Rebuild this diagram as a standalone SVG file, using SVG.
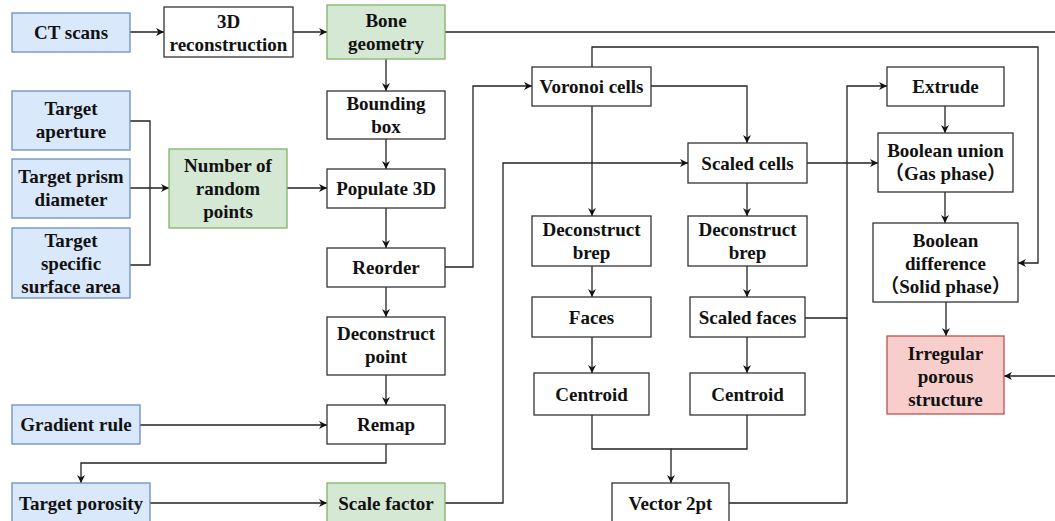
<svg xmlns="http://www.w3.org/2000/svg" width="1055" height="521" viewBox="0 0 1055 521">
<style>
  .n rect { fill: #ffffff; stroke: #333333; stroke-width: 1.3; }
  .b rect { fill: #dae8fc; stroke: #6c8ebf; }
  .g rect { fill: #d5e8d4; stroke: #82b366; }
  .r rect { fill: #f8cecc; stroke: #b85450; }
  text { font-family: "Liberation Serif", "Times New Roman", serif; font-weight: bold; font-size: 19px; fill: #111111; text-anchor: middle; }
  .cjk { font-family: "Noto Sans CJK SC", sans-serif; font-weight: bold; }
  #connectors path { fill: none; stroke: #222222; stroke-width: 1.3; }
  #connectors path.a { marker-end: url(#arr); }
</style>
<defs>
  <marker id="arr" viewBox="0 0 10 10" refX="10" refY="5" markerWidth="9" markerHeight="8" markerUnits="userSpaceOnUse" orient="auto">
    <path d="M0,0 L10,5 L0,10 L3,5 Z" fill="#111111"/>
  </marker>
</defs>
<rect width="1055" height="521" fill="#ffffff"/>

<g id="connectors">
  <path class="a" d="M130,32 H164"/>
  <path class="a" d="M293,32 H327"/>
  <path d="M445,32 H1055"/>
  <path class="a" d="M386,59 V91"/>
  <path class="a" d="M386,139 V169"/>
  <path d="M130,121 H150 V265 H130"/>
  <path class="a" d="M130,188 H169"/>
  <path class="a" d="M287,188 H327"/>
  <path class="a" d="M386,208 V248"/>
  <path class="a" d="M386,287 V317"/>
  <path class="a" d="M386,375 V405"/>
  <path class="a" d="M140,425 H327"/>
  <path class="a" d="M386,444 V463 H81 V483"/>
  <path class="a" d="M150,503 H327"/>
  <path class="a" d="M445,503 H503 V163 H688"/>
  <path class="a" d="M444,267 H473 V86 H532"/>
  <path class="a" d="M651,86 H747 V143"/>
  <path class="a" d="M592,106 V216"/>
  <path class="a" d="M592,67 V47 H1038 V263 H1018"/>
  <path class="a" d="M747,183 V216"/>
  <path class="a" d="M807,163 H878"/>
  <path class="a" d="M592,266 V297"/>
  <path class="a" d="M747,266 V297"/>
  <path class="a" d="M592,337 V373"/>
  <path class="a" d="M747,337 V373"/>
  <path class="a" d="M592,415 V449 H671 V483"/>
  <path d="M747,415 V449 H671"/>
  <path class="a" d="M805,318 H847 V86 H887"/>
  <path d="M729,503 H847 V318"/>
  <path class="a" d="M945,106 V133"/>
  <path class="a" d="M945,192 V223"/>
  <path class="a" d="M946,302 V336"/>
  <path class="a" d="M1055,376 H1004"/>
</g>

<g id="ct-scans" class="n b"><rect x="12" y="13" width="118" height="39"/><text x="71" y="39">CT scans</text></g>
<g id="reconstruction" class="n"><rect x="164" y="7" width="129" height="50"/><text x="228.5" y="28">3D</text><text x="228.5" y="51">reconstruction</text></g>
<g id="bone-geometry" class="n g"><rect x="327" y="5" width="118" height="54"/><text x="386" y="27">Bone</text><text x="386" y="50">geometry</text></g>
<g id="bounding-box" class="n"><rect x="327" y="91" width="118" height="48"/><text x="386" y="110">Bounding</text><text x="386" y="133">box</text></g>
<g id="target-aperture" class="n b"><rect x="12" y="91" width="118" height="59"/><text x="71" y="115">Target</text><text x="71" y="138">aperture</text></g>
<g id="target-prism" class="n b"><rect x="12" y="159" width="118" height="59"/><text x="71" y="183">Target prism</text><text x="71" y="206">diameter</text></g>
<g id="target-ssa" class="n b"><rect x="12" y="228" width="118" height="70"/><text x="71" y="247">Target</text><text x="71" y="270">specific</text><text x="71" y="293">surface area</text></g>
<g id="random-points" class="n g"><rect x="169" y="149" width="118" height="79"/><text x="228" y="172">Number of</text><text x="228" y="195">random</text><text x="228" y="218">points</text></g>
<g id="populate-3d" class="n"><rect x="327" y="169" width="118" height="39"/><text x="386" y="195">Populate 3D</text></g>
<g id="reorder" class="n"><rect x="327" y="248" width="118" height="39"/><text x="386" y="274">Reorder</text></g>
<g id="deconstruct-point" class="n"><rect x="327" y="317" width="118" height="58"/><text x="386" y="340">Deconstruct</text><text x="386" y="363">point</text></g>
<g id="gradient-rule" class="n b"><rect x="12" y="405" width="128" height="39"/><text x="76" y="431">Gradient rule</text></g>
<g id="remap" class="n"><rect x="327" y="405" width="118" height="39"/><text x="386" y="431">Remap</text></g>
<g id="target-porosity" class="n b"><rect x="12" y="483" width="138" height="42"/><text x="81" y="510">Target porosity</text></g>
<g id="scale-factor" class="n g"><rect x="327" y="483" width="118" height="42"/><text x="386" y="510">Scale factor</text></g>
<g id="voronoi-cells" class="n"><rect x="532" y="67" width="119" height="39"/><text x="591.5" y="93">Voronoi cells</text></g>
<g id="scaled-cells" class="n"><rect x="688" y="143" width="119" height="40"/><text x="747.5" y="170">Scaled cells</text></g>
<g id="deconstruct-brep-1" class="n"><rect x="532" y="216" width="119" height="50"/><text x="591.5" y="236">Deconstruct</text><text x="591.5" y="259">brep</text></g>
<g id="deconstruct-brep-2" class="n"><rect x="688" y="216" width="119" height="50"/><text x="747.5" y="236">Deconstruct</text><text x="747.5" y="259">brep</text></g>
<g id="faces" class="n"><rect x="532" y="297" width="119" height="40"/><text x="591.5" y="324">Faces</text></g>
<g id="scaled-faces" class="n"><rect x="690" y="297" width="115" height="40"/><text x="747.5" y="324">Scaled faces</text></g>
<g id="centroid-1" class="n"><rect x="534" y="373" width="115" height="42"/><text x="591.5" y="401">Centroid</text></g>
<g id="centroid-2" class="n"><rect x="690" y="373" width="115" height="42"/><text x="747.5" y="401">Centroid</text></g>
<g id="vector-2pt" class="n"><rect x="612" y="483" width="117" height="42"/><text x="670.5" y="510">Vector 2pt</text></g>
<g id="extrude" class="n"><rect x="887" y="67" width="117" height="39"/><text x="945.5" y="93">Extrude</text></g>
<g id="boolean-union" class="n"><rect x="878" y="133" width="135" height="59"/><text x="945.5" y="157">Boolean union</text><text x="945.5" y="180"><tspan class="cjk">（</tspan>Gas phase<tspan class="cjk">）</tspan></text></g>
<g id="boolean-difference" class="n"><rect x="873" y="223" width="145" height="79"/><text x="945.5" y="247">Boolean</text><text x="945.5" y="270">difference</text><text x="945.5" y="293"><tspan class="cjk">（</tspan>Solid phase<tspan class="cjk">）</tspan></text></g>
<g id="irregular-porous" class="n r"><rect x="887" y="336" width="117" height="78"/><text x="945.5" y="360">Irregular</text><text x="945.5" y="383">porous</text><text x="945.5" y="406">structure</text></g>
</svg>
